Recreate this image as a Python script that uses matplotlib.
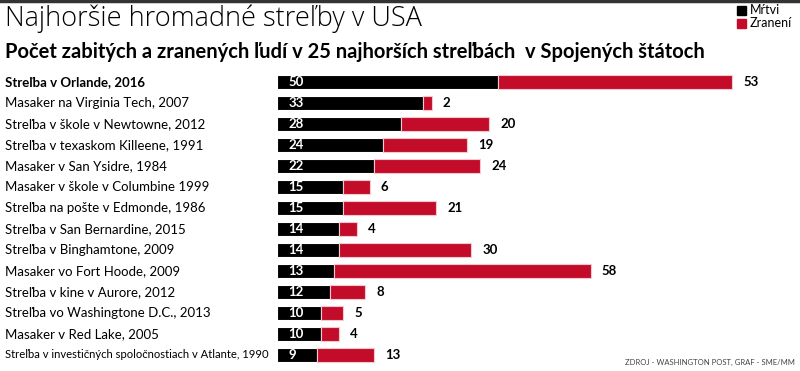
import matplotlib.pyplot as plt

udalosti = ["Streľba v Orlande, 2016", "Masaker na Virginia Tech, 2007",
            "Streľba v škole v Newtowne, 2012", "Streľba v texaskom Killeene, 1991",
            "Masaker v San Ysidre, 1984", "Masaker v škole v Columbine 1999",
            "Streľba na pošte v Edmonde, 1986", "Streľba v San Bernardine, 2015",
            "Streľba v Binghamtone, 2009", "Masaker vo Fort Hoode, 2009",
            "Streľba v kine v Aurore, 2012", "Streľba vo Washingtone D.C., 2013",
            "Masaker v Red Lake, 2005",
            "Streľba v investičných spoločnostiach v Atlante, 1990"]
mrtvi = [50, 33, 28, 24, 22, 15, 15, 14, 14, 13, 12, 10, 10, 9]
zraneni = [53, 2, 20, 19, 24, 6, 21, 4, 30, 58, 8, 5, 4, 13]

CIERNA = "#000000"
CERVENA = "#c30c2a"
W, H = 800, 371

plt.rcParams['font.family'] = ['Lato', 'DejaVu Sans']

fig = plt.figure(figsize=(8, 3.71), dpi=100)
renderer = fig.canvas.get_renderer()

# horna linka
fig.add_artist(plt.Line2D([0, 1], [1 - 1 / H, 1 - 1 / H], color="#333333", lw=2.5))

fig.text(5 / W, 1 - 19 / H, "Najhoršie hromadné streľby v USA", fontsize=19.5,
         fontweight='light', family=['Open Sans', 'DejaVu Sans'], va='center', ha='left')
fig.text(5 / W, 1 - 52 / H, "Počet zabitých a zranených ľudí v 25 najhorších streľbách  v Spojených štátoch",
         fontsize=14.5, fontweight='bold', va='center', ha='left')

# legenda
for i, (nazov, farba) in enumerate([("Mŕtvi", CIERNA), ("Zranení", CERVENA)]):
    yy = 1 - (10 + i * 13) / H
    fig.patches.append(plt.Rectangle((737 / W, yy - 4.5 / H), 9 / W, 9 / H,
                                     color=farba, transform=fig.transFigure, figure=fig))
    fig.text(750 / W, yy, nazov, fontsize=9, va='center', ha='left')

ax = fig.add_axes([277 / W, 1 - 365.5 / H, 523 / W, 294 / H])
n = len(udalosti)
y = list(range(n))
ax.barh(y, mrtvi, height=0.68, color=CIERNA, edgecolor='white', linewidth=0.8)
ax.barh(y, zraneni, left=mrtvi, height=0.68, color=CERVENA, edgecolor='#f4c8cf', linewidth=0.8)
ax.set_xlim(0, 523 / 4.42)
ax.set_ylim(n - 0.5, -0.5)
ax.axis('off')

for i in range(n):
    ax.annotate(str(mrtvi[i]), (0, i), xytext=(8, 0), textcoords='offset points',
                color='white', fontsize=9.5, fontweight='bold', va='center', ha='left')
    ax.annotate(str(zraneni[i]), (mrtvi[i] + zraneni[i], i), xytext=(8, 0),
                textcoords='offset points', color='black', fontsize=9.5,
                fontweight='bold', va='center', ha='left')
    t = fig.text(5 / W, 1 - (82 + 21 * i) / H, udalosti[i], fontsize=9.5,
                 fontweight='bold' if i == 0 else 'normal', va='center', ha='left')
    # dlhe popisy zmensit, aby nezasahovali do stlpcov
    sirka = t.get_window_extent(renderer).width
    if sirka > 264:
        t.set_fontsize(9.5 * 264 / sirka)

fig.text(795 / W, 1 - 362 / H, "ZDROJ - WASHINGTON POST, GRAF - SME/MM", fontsize=5.5,
         color='#444444', va='center', ha='right')

fig.savefig("out.png", dpi=100)
